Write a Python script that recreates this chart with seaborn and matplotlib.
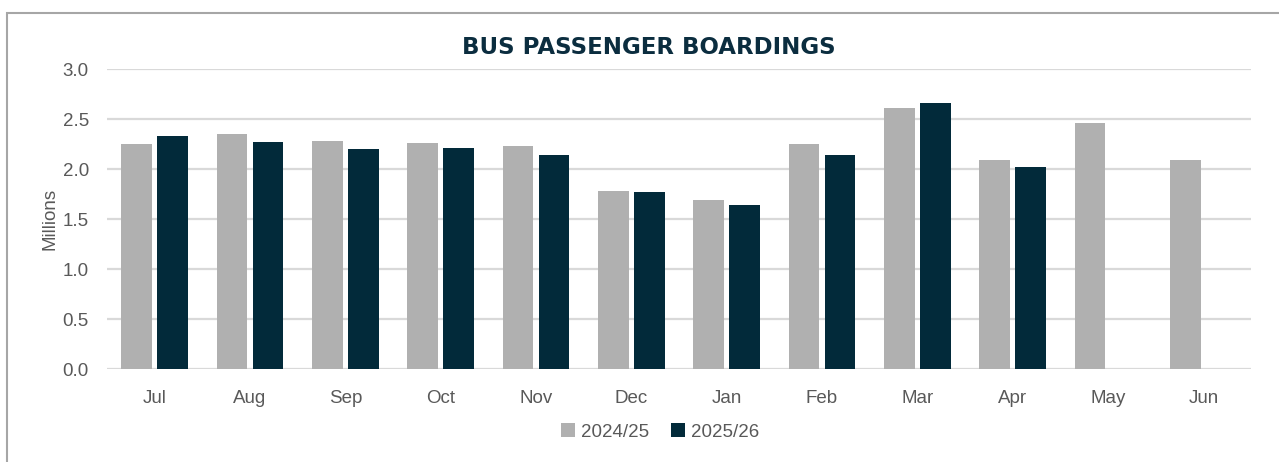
import numpy as np
import pandas as pd
import matplotlib
matplotlib.use("Agg")
import matplotlib.pyplot as plt
from matplotlib.patches import Rectangle
import seaborn as sns

months = ["Jul", "Aug", "Sep", "Oct", "Nov", "Dec", "Jan", "Feb", "Mar", "Apr", "May", "Jun"]
fy2425 = [2.25, 2.35, 2.28, 2.26, 2.23, 1.78, 1.69, 2.25, 2.61, 2.09, 2.46, 2.09]
fy2526 = [2.33, 2.27, 2.20, 2.21, 2.14, 1.77, 1.64, 2.14, 2.66, 2.02, np.nan, np.nan]
series_names = ["2024/25", "2025/26"]
yticks = [0.0, 0.5, 1.0, 1.5, 2.0, 2.5, 3.0]

df = pd.DataFrame({
    "Month": months * 2,
    "Value": fy2425 + fy2526,
    "Year": [series_names[0]] * len(months) + [series_names[1]] * len(months),
})

sns.set_theme(style="white")
plt.rcParams["font.family"] = ["Liberation Sans", "DejaVu Sans"]

W, H = 1279, 462
fig = plt.figure(figsize=(W / 100, H / 100), dpi=100)
ax = fig.add_axes([107 / W, 1 - 369 / H, (1251 - 107) / W, (369 - 69) / H])

palette = {series_names[0]: "#B0B0B0", series_names[1]: "#022A3A"}
sns.barplot(data=df, x="Month", y="Value", hue="Year", order=months,
            hue_order=series_names, palette=palette, width=0.75, gap=0.14,
            saturation=1, ax=ax, legend=True, edgecolor="none")

ax.set_ylim(0, 3)
ax.set_yticks(yticks)
ax.set_yticklabels([f"{v:.1f}" for v in yticks])
ax.set_xlim(-0.5, len(months) - 0.5)
ax.yaxis.grid(True, color="#D9D9D9", linewidth=1.6)
ax.set_axisbelow(True)
for s in ax.spines.values():
    s.set_visible(False)
ax.tick_params(axis="both", length=0, labelsize=13.5, colors="#595959")
ax.tick_params(axis="x", pad=15)
ax.tick_params(axis="y", pad=13)
ax.set_xlabel("")
ax.set_ylabel("Millions", fontsize=13.5, color="#595959", labelpad=3)

leg = ax.legend(loc="center", bbox_to_anchor=(660 / W, 1 - 432 / H),
                bbox_transform=fig.transFigure, ncol=2, frameon=False,
                fontsize=13.5, handlelength=0.75, handleheight=0.75,
                handletextpad=0.3, columnspacing=1.2)
for t in leg.get_texts():
    t.set_color("#595959")

fig.text(649 / W, 1 - 47 / H, "BUS PASSENGER BOARDINGS", ha="center", va="center",
         fontsize=16.5, fontweight="bold", color="#0B2D3F",
         family=["DejaVu Sans"])

fig.patches.append(Rectangle((7 / W, -0.1), 1.2, 1 - 13 / H + 0.1,
                             transform=fig.transFigure, fill=False,
                             edgecolor="#A6A6A6", linewidth=1.5, clip_on=False))

fig.savefig("out.png", dpi=100, facecolor="white")
